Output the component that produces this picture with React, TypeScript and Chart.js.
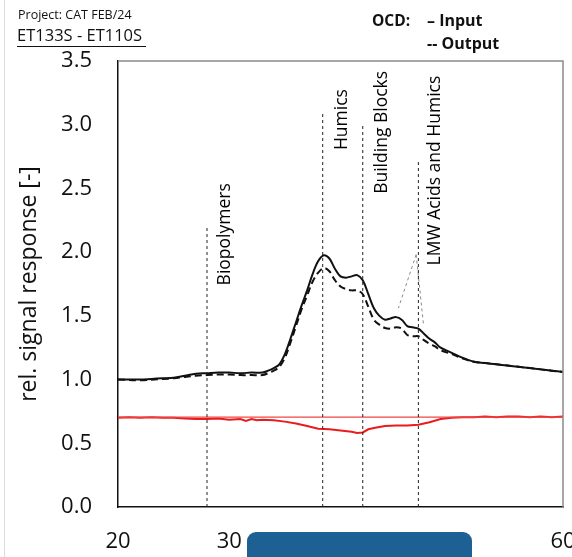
import React, { useEffect, useRef } from "react";
import { Chart, registerables } from "chart.js";
Chart.register(...registerables);

// ---- data ----
const inputX = [20, 21, 22, 23, 24, 25, 26, 27, 28, 29, 30, 31, 32, 33, 33.5, 34, 34.5, 35, 35.5, 36, 36.5, 37, 37.5, 38, 38.5, 39, 39.5, 40, 40.5, 41, 41.5, 42, 42.5, 43, 43.5, 44, 44.5, 45, 45.5, 46, 46.5, 47, 47.5, 48, 48.5, 49, 50, 51, 52, 53, 54, 55, 56, 57, 58, 59, 60];
const inputY = [1.0, 1.0, 1.0, 1.005, 1.01, 1.015, 1.03, 1.045, 1.05, 1.055, 1.055, 1.05, 1.055, 1.055, 1.07, 1.09, 1.12, 1.2, 1.32, 1.45, 1.58, 1.7, 1.83, 1.93, 1.975, 1.95, 1.87, 1.81, 1.8, 1.81, 1.82, 1.78, 1.67, 1.56, 1.5, 1.47, 1.48, 1.49, 1.47, 1.42, 1.41, 1.4, 1.36, 1.32, 1.29, 1.25, 1.21, 1.17, 1.14, 1.13, 1.12, 1.11, 1.1, 1.09, 1.08, 1.07, 1.06];

const outputX = [20, 22, 24, 25, 26, 27, 28, 29, 30, 31, 32, 33, 33.5, 34, 34.5, 35, 35.5, 36, 36.5, 37, 37.5, 38, 38.5, 39, 39.5, 40, 40.5, 41, 41.5, 42, 42.5, 43, 43.5, 44, 44.5, 45, 45.5, 46, 46.5, 47, 47.5, 48, 48.5, 49, 50, 51, 52, 53, 54, 55, 56, 57, 58, 59, 60];
const outputY = [1.0, 0.995, 1.005, 1.01, 1.02, 1.03, 1.035, 1.04, 1.04, 1.035, 1.035, 1.035, 1.05, 1.07, 1.1, 1.17, 1.29, 1.42, 1.55, 1.66, 1.77, 1.84, 1.875, 1.85, 1.78, 1.73, 1.71, 1.7, 1.7, 1.67, 1.57, 1.47, 1.43, 1.405, 1.4, 1.41, 1.4, 1.35, 1.34, 1.34, 1.31, 1.28, 1.26, 1.23, 1.2, 1.165, 1.14, 1.13, 1.12, 1.11, 1.1, 1.09, 1.08, 1.07, 1.06];

const ratioX = [20, 21, 22, 23, 24, 25, 26, 27, 28, 29, 30, 31, 31.5, 32, 32.5, 33, 34, 35, 36, 37, 38, 39, 40, 41, 41.5, 42, 42.5, 43, 44, 45, 46, 47, 48, 49, 50, 51, 52, 53, 54, 55, 56, 57, 58, 59, 60];
const ratioY = [0.7, 0.705, 0.7, 0.705, 0.7, 0.7, 0.695, 0.69, 0.69, 0.695, 0.685, 0.69, 0.675, 0.69, 0.68, 0.685, 0.68, 0.67, 0.655, 0.635, 0.615, 0.61, 0.6, 0.59, 0.58, 0.585, 0.61, 0.62, 0.635, 0.64, 0.64, 0.645, 0.665, 0.69, 0.7, 0.705, 0.705, 0.71, 0.705, 0.71, 0.71, 0.705, 0.71, 0.705, 0.71];

const refLineX = [20, 60];
const refLineY = [0.705, 0.705];

const markerX = [28, 38.4, 42, 47];
const markerTop = [2.21, 3.1, 3.0, 2.71];
const markerLabels = ["Biopolymers", "Humics", "Building Blocks", "LMW Acids and Humics"];
const markerLabelX = [29.6, 40.1, 43.7, 48.5];
const markerLabelY = [2.14, 3.04, 2.94, 2.64];

const leaderX = [45.2, 46.8, 47.45];
const leaderY = [1.56, 1.98, 1.44];

const xTicks = [20, 30, 40, 50, 60];
const xTickLabels = ["20", "30", "", "", "60"]; // 40 and 50 are hidden under the overlay in the reference
const yTicks = [0, 0.5, 1, 1.5, 2, 2.5, 3, 3.5];

const FONT = "'Open Sans', 'Noto Sans', sans-serif";

const pts = (xs: number[], ys: number[]) => xs.map((x, i) => ({ x, y: ys[i] }));

export default function App() {
  const ref = useRef<HTMLCanvasElement | null>(null);

  useEffect(() => {
    if (!ref.current) return;
    const markerSets = markerX.map((mx, i) => ({
      data: [{ x: mx, y: 0 }, { x: mx, y: markerTop[i] }],
      borderColor: "#222",
      borderWidth: 1,
      borderDash: [3, 3],
      pointRadius: 0,
      tension: 0,
    }));
    const leaderSets = [0, 2].map((k) => ({
      data: [{ x: leaderX[1], y: leaderY[1] }, { x: leaderX[k], y: leaderY[k] }],
      borderColor: "#888",
      borderWidth: 1,
      borderDash: [3, 3],
      pointRadius: 0,
      tension: 0,
    }));

    const framePlugin = {
      id: "frame",
      afterDatasetsDraw(chart: any) {
        const { ctx, chartArea: a, scales } = chart;
        ctx.save();
        ctx.strokeStyle = "#8a8a8a";
        ctx.lineWidth = 1.5;
        ctx.beginPath();
        ctx.moveTo(a.left, a.top);
        ctx.lineTo(a.right, a.top);
        ctx.lineTo(a.right, a.bottom);
        ctx.stroke();
        ctx.fillStyle = "#000";
        ctx.font = `17.5px ${FONT}`;
        ctx.textAlign = "center";
        ctx.textBaseline = "middle";
        markerLabels.forEach((t, i) => {
          const px = scales.x.getPixelForValue(markerLabelX[i]);
          const py = scales.y.getPixelForValue(markerLabelY[i]);
          ctx.save();
          ctx.translate(px, py);
          ctx.rotate(-Math.PI / 2);
          ctx.fillText(t, 0, 0);
          ctx.restore();
        });
        ctx.restore();
      },
    };

    const chart = new Chart(ref.current, {
      type: "line",
      data: {
        datasets: [
          ...markerSets,
          ...leaderSets,
          {
            data: pts(refLineX, refLineY),
            borderColor: "rgb(240,70,70)",
            borderWidth: 1.2,
            pointRadius: 0,
            tension: 0,
          },
          {
            data: pts(ratioX, ratioY),
            borderColor: "rgb(232,28,28)",
            borderWidth: 2,
            pointRadius: 0,
            tension: 0,
          },
          {
            data: pts(outputX, outputY),
            borderColor: "#111",
            borderWidth: 2,
            borderDash: [7, 4],
            pointRadius: 0,
            tension: 0.35,
          },
          {
            data: pts(inputX, inputY),
            borderColor: "#111",
            borderWidth: 2,
            pointRadius: 0,
            tension: 0.35,
          },
        ] as any,
      },
      options: {
        responsive: false,
        animation: false,
        layout: { padding: { left: 0, top: 61, right: 9, bottom: 0 } },
        plugins: { legend: { display: false }, tooltip: { enabled: false } },
        scales: {
          x: {
            type: "linear",
            min: 20,
            max: 60,
            afterBuildTicks: (s: any) => {
              s.ticks = xTicks.map((v) => ({ value: v }));
            },
            afterFit: (s: any) => {
              s.height = 50;
              s.paddingLeft = 0;
              s.paddingRight = 0;
            },
            grid: { display: false, drawTicks: false },
            border: { display: true, color: "#111", width: 1.5 },
            ticks: {
              font: { family: FONT, size: 22 },
              color: "#111",
              padding: 22,
              maxRotation: 0,
              autoSkip: false,
              callback: (v: any) => {
                const i = xTicks.indexOf(Number(v));
                return i >= 0 ? xTickLabels[i] : "";
              },
            },
          },
          y: {
            type: "linear",
            min: 0,
            max: 3.5,
            afterBuildTicks: (s: any) => {
              s.ticks = yTicks.map((v) => ({ value: v }));
            },
            afterFit: (s: any) => {
              s.width = 118;
              s.paddingTop = 0;
              s.paddingBottom = 0;
            },
            grid: { display: false, drawTicks: false },
            border: { display: true, color: "#111", width: 1.5 },
            ticks: {
              font: { family: FONT, size: 22 },
              color: "#111",
              padding: 26,
              callback: (v: any) => Number(v).toFixed(1),
            },
            title: {
              display: true,
              text: "rel. signal response [-]",
              font: { family: FONT, size: 23 },
              color: "#111",
              padding: { top: 16, bottom: 0 },
            },
          },
        },
      },
      plugins: [framePlugin],
    } as any);
    return () => chart.destroy();
  }, []);

  return (
    <div style={{ position: "absolute", left: 0, top: 0, width: 572, height: 557, overflow: "hidden", background: "#fff", fontFamily: FONT, color: "#111" }}>
      <canvas ref={ref} width={572} height={557} style={{ position: "absolute", left: 0, top: 0 }} />
      <div style={{ position: "absolute", left: 4, top: 0, width: 1, height: 557, background: "#dcdcdc" }} />
      <div style={{ position: "absolute", left: 18, top: 6, fontSize: 12.5, whiteSpace: "nowrap", lineHeight: "18px" }}>Project: CAT FEB/24</div>
      <div style={{ position: "absolute", left: 17, top: 25, fontSize: 16.5, whiteSpace: "nowrap", lineHeight: "20px", width: 129, borderBottom: "1.5px solid #111", paddingBottom: 1 }}>ET133S - ET110S</div>
      <div style={{ position: "absolute", left: 372, top: 10, fontSize: 15.5, fontWeight: 700, whiteSpace: "nowrap", lineHeight: "20px" }}>OCD:</div>
      <div style={{ position: "absolute", left: 427, top: 10, fontSize: 16, fontWeight: 700, whiteSpace: "nowrap", lineHeight: "20px" }}>– Input</div>
      <div style={{ position: "absolute", left: 427, top: 33, fontSize: 16, fontWeight: 700, whiteSpace: "nowrap", lineHeight: "20px" }}>-- Output</div>
      <div style={{ position: "absolute", left: 247, top: 532, width: 225, height: 40, background: "#1d6093", borderRadius: 9 }} />
    </div>
  );
}
